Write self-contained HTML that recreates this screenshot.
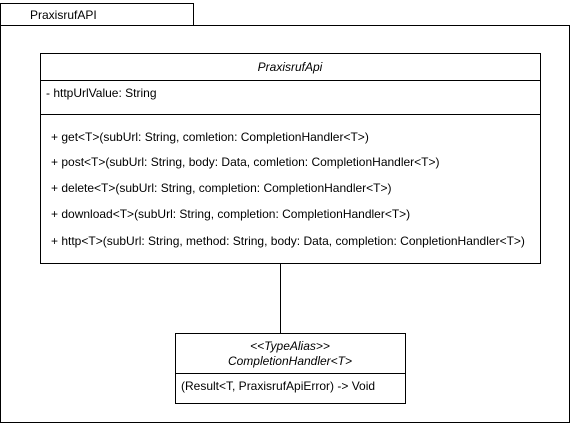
<!DOCTYPE html>
<html><head><style>
html,body{margin:0;padding:0;background:#fff;width:571px;height:424px;overflow:hidden}
svg text{font-family:"Liberation Sans",Arial,sans-serif;font-size:12px;fill:#000}
</style></head><body>
<svg width="571" height="424" xmlns="http://www.w3.org/2000/svg">
<g fill="#fff" stroke="#000" stroke-width="1">
<rect x="0.5" y="3.5" width="193" height="22"/>
<rect x="0.5" y="25.5" width="569" height="397"/>
<rect x="40.5" y="53.5" width="500" height="210"/>
<line x1="40.5" y1="80.5" x2="540.5" y2="80.5"/>
<line x1="40.5" y1="114.5" x2="540.5" y2="114.5"/>
<line x1="280.5" y1="263.5" x2="280.5" y2="333.5"/>
<rect x="175.5" y="333.5" width="230" height="70"/>
<line x1="175.5" y1="373.5" x2="405.5" y2="373.5"/>
</g>
<text x="30" y="19">PraxisrufAPI</text>
<text x="290" y="71" text-anchor="middle" font-style="italic">PraxisrufApi</text>
<text x="46" y="97">- httpUrlValue: String</text>
<text x="51" y="141">+ get&lt;T&gt;(subUrl: String, comletion: CompletionHandler&lt;T&gt;)</text>
<text x="51" y="166">+ post&lt;T&gt;(subUrl: String, body: Data, comletion: CompletionHandler&lt;T&gt;)</text>
<text x="51" y="192">+ delete&lt;T&gt;(subUrl: String, completion: CompletionHandler&lt;T&gt;)</text>
<text x="51" y="218">+ download&lt;T&gt;(subUrl: String, completion: CompletionHandler&lt;T&gt;)</text>
<text x="51" y="245">+ http&lt;T&gt;(subUrl: String, method: String, body: Data, completion: ConpletionHandler&lt;T&gt;)</text>
<text x="290" y="350" text-anchor="middle" font-style="italic">&lt;&lt;TypeAlias&gt;&gt;</text>
<text x="290" y="365" text-anchor="middle" font-style="italic">CompletionHandler&lt;T&gt;</text>
<text x="181" y="390">(Result&lt;T, PraxisrufApiError) -&gt; Void</text>
</svg>
</body></html>
